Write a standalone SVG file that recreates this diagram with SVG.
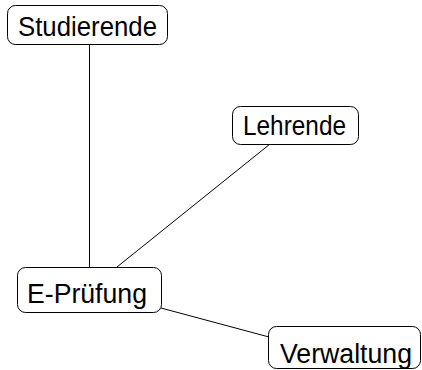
<svg xmlns="http://www.w3.org/2000/svg" width="422" height="370" viewBox="0 0 422 370">
<style>
.box{fill:#fff;stroke:#000;stroke-width:1}
.lbl{font-family:"Liberation Sans","DejaVu Sans",sans-serif;font-size:27px;fill:#000;text-anchor:middle}
.edge{stroke:#000;stroke-width:1;fill:none}
</style>
<rect width="422" height="370" fill="#fff"/>
<g id="connectors">
<line class="edge" x1="89.5" y1="45" x2="89.5" y2="267"/>
<line class="edge" x1="270" y1="144" x2="117" y2="267"/>
<line class="edge" x1="161" y1="308" x2="269" y2="337"/>
</g>
<g id="studierende">
<rect class="box" x="7.5" y="5.5" width="160" height="39" rx="8"/>
<text class="lbl" x="87.5" y="36" textLength="139" lengthAdjust="spacingAndGlyphs">Studierende</text>
</g>
<g id="lehrende">
<rect class="box" x="232.5" y="106.5" width="126" height="38" rx="8"/>
<text class="lbl" x="294.5" y="135" textLength="103" lengthAdjust="spacingAndGlyphs">Lehrende</text>
</g>
<g id="epruefung">
<rect class="box" x="17.5" y="267.5" width="144" height="45" rx="8"/>
<text class="lbl" x="87" y="302.5" textLength="120" lengthAdjust="spacingAndGlyphs">E-Prüfung</text>
</g>
<g id="verwaltung">
<rect class="box" x="268.5" y="326.5" width="152" height="42" rx="8"/>
<text class="lbl" x="346" y="363" textLength="132" lengthAdjust="spacingAndGlyphs">Verwaltung</text>
</g>
</svg>
